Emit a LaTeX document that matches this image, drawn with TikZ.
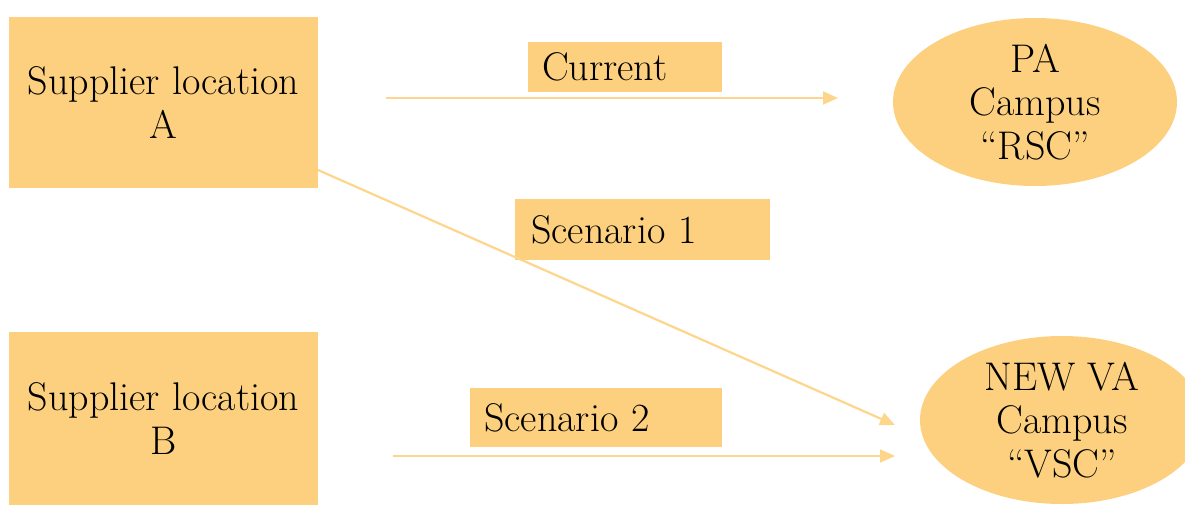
\documentclass[tikz,border=0pt]{standalone}
\usetikzlibrary{shapes.geometric,arrows.meta}
\definecolor{gold}{RGB}{252,208,127}
\definecolor{goldline}{RGB}{253,214,140}
\tikzset{
  bigfont/.style={font=\fontsize{40}{43.5}\selectfont},
  supbox/.style={draw=none,fill=gold,minimum width=309pt,minimum height=171pt,inner sep=0pt,align=center,bigfont},
  campus/.style={ellipse,draw=none,fill=gold,minimum width=284pt,minimum height=168pt,inner sep=0pt,align=center,bigfont},
  lbl/.style={draw=none,fill=gold,anchor=north west,inner sep=0pt,bigfont},
  conn/.style={draw=goldline,line width=2.2pt,-{Triangle[length=15pt,width=13pt]}}
}
\begin{document}
\begin{tikzpicture}[x=1pt,y=-1pt]
\useasboundingbox (0,0) rectangle (1185,504);
\clip (0,0) rectangle (1185,504);
\node[supbox] (A) at (163.5,102.5) {Supplier location\\A};
\node[supbox,minimum height=173pt] (B) at (163.5,418.5) {Supplier location\\B};
\node[campus] (PA) at (1035,102) {PA\\Campus\\``RSC''};
\node[campus] (VA) at (1062,420) {NEW VA\\Campus\\``VSC''};
\node[lbl,minimum width=194pt,minimum height=50pt,text width=194pt] (cur) at (528,42) {\hspace*{14pt}Current};
\node[lbl,minimum width=255pt,minimum height=61pt,text width=255pt] (s1) at (515,199) {\hspace*{16pt}Scenario 1};
\node[lbl,minimum width=252pt,minimum height=59pt,text width=252pt] (s2) at (470,388) {\hspace*{14pt}Scenario 2};
\coordinate (c0) at (386,98);
\coordinate (c1) at (838,98);
\coordinate (s1a) at (318,170);
\coordinate (s1b) at (895,425);
\coordinate (s2a) at (393,456);
\coordinate (s2b) at (895,456);
\draw[conn] (c0) -- (c1);
\draw[conn] (s1a) -- (s1b);
\draw[conn] (s2a) -- (s2b);
\end{tikzpicture}
\end{document}
